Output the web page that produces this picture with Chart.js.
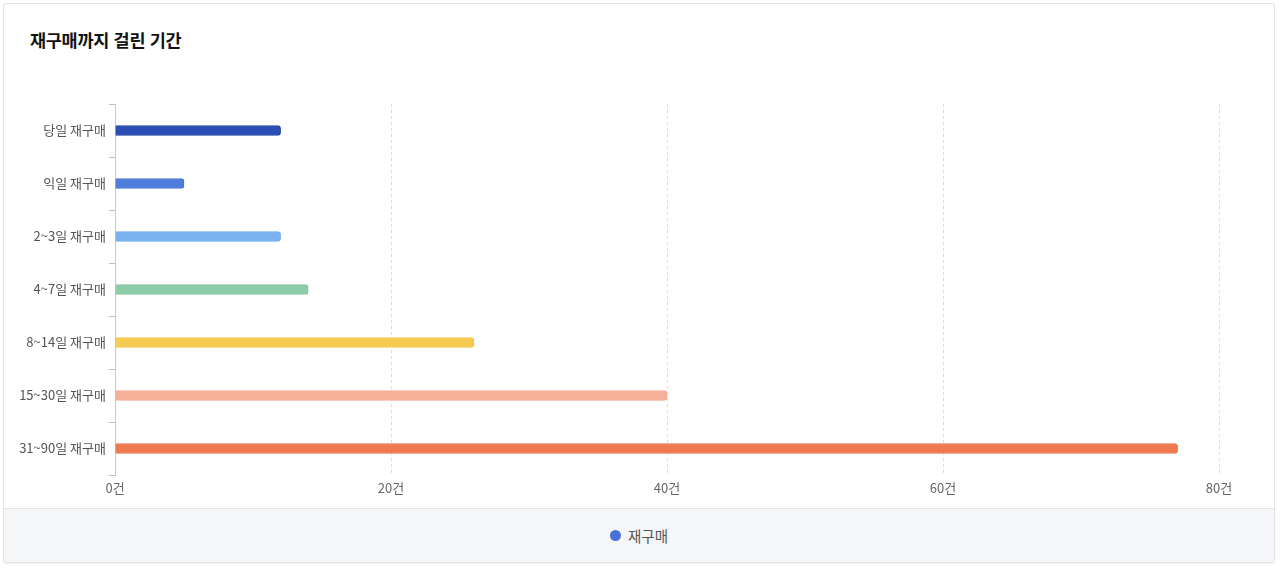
<!DOCTYPE html>
<html lang="ko">
<head>
<meta charset="utf-8">
<script src="https://cdn.jsdelivr.net/npm/chart.js@4"></script>
<style>
    body {
        margin: 0;
        background: #ffffff;
        font-family: "Noto Sans CJK KR", "Noto Sans", sans-serif;
    }
    .card {
        position: absolute;
        left: 3px;
        top: 3px;
        width: 1270px;
        height: 558px;
        border: 1px solid #e2e3e7;
        border-radius: 3px;
        box-shadow: 0 1px 2px rgba(0, 0, 0, 0.06);
        background: #fff;
        overflow: hidden;
    }
    .title {
        position: absolute;
        left: 26px;
        top: 23px;
        font-size: 17.5px;
        font-weight: 700;
        color: #111;
        letter-spacing: -0.3px;
    }
    .chart-box {
        position: absolute;
        left: 0;
        top: 86px;
        width: 1270px;
        height: 418px;
    }
    .footer {
        position: absolute;
        left: 0;
        bottom: 0;
        width: 100%;
        height: 53px;
        background: #f5f6f8;
        border-top: 1px solid #e4e5e9;
        display: flex;
        align-items: center;
        justify-content: center;
    }
    .legend-item {
        display: flex;
        align-items: center;
        font-size: 14.5px;
        color: #555;
    }
    .legend-dot {
        width: 11px;
        height: 11px;
        border-radius: 50%;
        margin-right: 7px;
    }
</style>
</head>
<body>
<div class="card">
    <div class="title">재구매까지 걸린 기간</div>
    <div class="chart-box"><canvas id="repurchaseChart"></canvas></div>
    <div class="footer" id="legendBox"></div>
</div>
<script>
const periodLabels = [
    "당일 재구매",
    "익일 재구매",
    "2~3일 재구매",
    "4~7일 재구매",
    "8~14일 재구매",
    "15~30일 재구매",
    "31~90일 재구매",
];
const repurchaseCounts = [12, 5, 12, 14, 26, 40, 77];
const seriesName = "재구매";
const xTickUnit = "건";

const barColors = ["#2b4db6", "#4f7ddb", "#7ab2ef", "#8dcca8", "#f6cb51", "#f5b097", "#ee7950"];
const barBorders = ["#1f3c9c", "#416fd2", "#6ca8ec", "#80c49d", "#f3c443", "#f2a78c", "#ea7047"];

document.addEventListener("DOMContentLoaded", function () {
    const tickFont = { family: "'Noto Sans CJK KR', 'Noto Sans', sans-serif", size: 13 };

    new Chart(document.getElementById("repurchaseChart"), {
        type: "bar",
        data: {
            labels: periodLabels,
            datasets: [
                {
                    label: seriesName,
                    data: repurchaseCounts,
                    backgroundColor: barColors,
                    borderColor: barBorders,
                    borderWidth: 1,
                    borderRadius: 3,
                    borderSkipped: "start",
                    barThickness: 10,
                },
            ],
        },
        options: {
            indexAxis: "y",
            responsive: true,
            maintainAspectRatio: false,
            animation: false,
            layout: {
                padding: { top: 14, right: 55, bottom: 0, left: 0 },
            },
            scales: {
                x: {
                    min: 0,
                    max: 80,
                    ticks: {
                        stepSize: 20,
                        padding: 5,
                        color: "#666",
                        font: tickFont,
                        callback: (value) => value + xTickUnit,
                    },
                    grid: {
                        color: "#dcdcdf",
                        drawTicks: false,
                    },
                    border: {
                        display: false,
                        dash: [3, 3],
                    },
                    afterFit: (scale) => {
                        scale.height = 33;
                    },
                },
                y: {
                    ticks: {
                        padding: 3,
                        color: "#555",
                        font: tickFont,
                    },
                    grid: {
                        offset: true,
                        drawOnChartArea: false,
                        drawTicks: true,
                        tickLength: 6,
                        color: "#bfc0c4",
                    },
                    border: {
                        display: true,
                        color: "#c9cacd",
                        dash: [3, 3],
                    },
                    afterFit: (scale) => {
                        scale.width = 111;
                    },
                },
            },
            plugins: {
                legend: { display: false },
                tooltip: { enabled: false },
            },
        },
    });

    // legend in the grey footer
    const item = document.createElement("div");
    item.className = "legend-item";
    const dot = document.createElement("span");
    dot.className = "legend-dot";
    dot.style.background = "#4a6fd6";
    item.appendChild(dot);
    item.appendChild(document.createTextNode(seriesName));
    document.getElementById("legendBox").appendChild(item);
});
</script>
</body>
</html>
